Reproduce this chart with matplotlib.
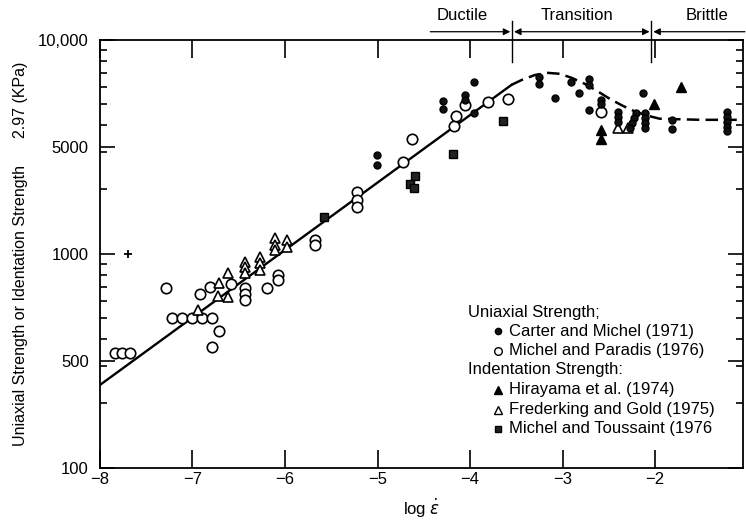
import numpy as np
import matplotlib
matplotlib.use("Agg")
import matplotlib.pyplot as plt
from matplotlib.ticker import LogLocator, NullFormatter
import matplotlib.transforms as mtrans

plt.rcParams["font.family"] = ["Liberation Sans", "DejaVu Sans"]

# Michel and Paradis (1976) - open circles
mp_x = [-7.84, -7.76, -7.68, -7.29, -7.22, -7.11, -7.01, -6.90, -6.79, -6.79, -6.71, -6.92, -6.81,
        -6.58, -6.43, -6.43, -6.43, -6.19, -6.08, -6.08, -5.68, -5.68, -5.22, -5.22, -5.22, -4.72,
        -4.63, -4.17, -4.15, -4.05, -3.81, -3.59, -2.59]
mp_y = [345, 345, 345, 693, 502, 502, 502, 502, 502, 367, 437, 650, 701, 725, 692, 650, 610, 693,
        795, 755, 1160, 1100, 1950, 1780, 1660, 2690, 3440, 3960, 4410, 4970, 5130, 5300, 4610]
# Frederking and Gold (1975) - open triangles
fg_x = [-6.94, -6.71, -6.72, -6.62, -6.62, -6.43, -6.43, -6.43, -6.27, -6.27, -6.27, -6.11, -6.11,
        -6.11, -5.98, -5.98, -2.40, -2.29]
fg_y = [547, 731, 636, 630, 815, 918, 869, 815, 968, 908, 841, 1190, 1100, 1045, 1160, 1080, 3880, 3880]
# Hirayama et al. (1974) - filled triangles
hi_x = [-2.59, -2.59, -2.01, -1.72]
hi_y = [3800, 3440, 5000, 6030]
# Michel and Toussaint (1976) - squares
mt_x = [-5.58, -4.59, -4.65, -4.61, -4.18, -3.64]
mt_y = [1490, 2310, 2120, 2030, 2930, 4170]
# Carter and Michel (1971) - filled circles
cm_x = [-5.01, -5.01, -4.29, -4.29, -4.05, -4.05, -3.96, -3.96, -3.25, -3.25, -3.08, -2.91, -2.82,
        -2.71, -2.71, -2.71, -2.59, -2.59, -2.40, -2.40, -2.40, -2.21, -2.23, -2.25, -2.27, -2.11,
        -2.11, -2.11, -2.11, -2.13, -1.82, -1.82, -1.22, -1.22, -1.22, -1.22, -1.22]
cm_y = [2900, 2610, 5190, 4760, 5530, 5250, 6360, 4560, 6710, 6220, 5360, 6360, 5650, 6570, 6170,
        4710, 5250, 5020, 4610, 4370, 4140, 4560, 4320, 4100, 3880, 4560, 4320, 4100, 3880, 5650,
        4230, 3840, 4610, 4370, 4140, 3920, 3760]
plus_x = [-7.70]
plus_y = [1000]

# fitted line (ductile) and dashed trend
fit_x = [-8.0, -3.55]
fit_y = [244, 6170]
trend_x = [-3.55, -3.44, -3.30, -3.16, -3.03, -2.90, -2.76, -2.63, -2.49, -2.35, -2.21, -2.08,
           -1.95, -1.51, -1.03]
trend_y = [6170, 6500, 6850, 7010, 6940, 6640, 6230, 5780, 5300, 4920, 4610, 4420, 4280, 4230, 4230]

yticks = [100, 10 ** 2.5, 1000, 10 ** 3.5, 10000]
ytick_labels = ["100", "500", "1000", "5000", "10,000"]
xticks = [-8, -7, -6, -5, -4, -3, -2]
regimes = ["Ductile", "Transition", "Brittle"]
regime_x = [-4.09, -2.84, -1.44]
bounds = [-3.545, -2.04]

fig = plt.figure(figsize=(7.46, 5.21), dpi=100)
ax = fig.add_axes([0.134, 0.102, 0.862, 0.8215])

ax.plot(fit_x, fit_y, color="k", lw=1.7, zorder=2)
ax.plot(trend_x, trend_y, color="k", lw=1.8, dashes=(5, 2.5), zorder=2)

ax.plot(mp_x, mp_y, "o", ms=7.5, mfc="white", mec="k", mew=1.2, ls="none", zorder=3)
ax.plot(fg_x, fg_y, "^", ms=7.5, mfc="white", mec="k", mew=1.2, ls="none", zorder=3)
ax.plot(hi_x, hi_y, "^", ms=7, mfc="k", mec="k", ls="none", zorder=4)
ax.plot(mt_x, mt_y, "s", ms=5.5, mfc="#222222", mec="k", ls="none", zorder=4)
ax.plot(cm_x, cm_y, "o", ms=5, mfc="#111111", mec="k", ls="none", zorder=4)
ax.plot(plus_x, plus_y, "+", ms=6, color="k", mew=1.3, ls="none", zorder=4)

ax.set_yscale("log")
ax.set_ylim(100, 10000)
ax.set_xlim(-8, -1.05)
ax.set_yticks(yticks)
ax.set_yticklabels(ytick_labels)
ax.yaxis.set_minor_locator(LogLocator(base=10, subs=np.arange(2, 10)))
ax.yaxis.set_minor_formatter(NullFormatter())
ax.set_xticks(xticks)
ax.set_xticklabels([f"\u2212{abs(v)}" for v in xticks])
ax.tick_params(which="both", direction="in", top=True, right=True, labelsize=12, width=1.2)
ax.tick_params(axis="x", which="major", length=13, pad=3)
ax.tick_params(axis="y", which="major", length=11, pad=8)
ax.tick_params(axis="y", which="minor", length=5)
for sp in ax.spines.values():
    sp.set_linewidth(1.3)

ax.set_ylabel("Uniaxial Strength or Identation Strength      2.97 (KPa)", fontsize=11.5, labelpad=7)
ax.set_xlabel("log $\\dot{\\varepsilon}$", fontsize=12, labelpad=7)

# regime annotation above the axes
tr = mtrans.blended_transform_factory(ax.transData, ax.transAxes)
for lab, xc in zip(regimes, regime_x):
    ax.text(xc, 1.058, lab, transform=tr, ha="center", va="center", fontsize=12)
for b in bounds:
    ax.plot([b, b], [0.949, 1.045], transform=tr, color="k", lw=1.0, clip_on=False)
head = dict(color="k", lw=0.9, mutation_scale=10, shrinkA=0, shrinkB=0)
ax.annotate("", xy=(bounds[0] - 0.02, 1.019), xytext=(-4.43, 1.019), xycoords=tr, textcoords=tr,
            arrowprops=dict(arrowstyle="-|>", **head))
ax.annotate("", xy=(bounds[1] - 0.02, 1.019), xytext=(bounds[0] + 0.02, 1.019), xycoords=tr, textcoords=tr,
            arrowprops=dict(arrowstyle="<|-|>", **head))
ax.annotate("", xy=(bounds[1] + 0.02, 1.019), xytext=(-1.03, 1.019), xycoords=tr, textcoords=tr,
            arrowprops=dict(arrowstyle="-|>", **head))

# legend drawn as text block inside the axes
fs = 12
ax.text(0.573, 0.364, "Uniaxial Strength;", transform=ax.transAxes, fontsize=fs, va="center")
ax.text(0.573, 0.229, "Indentation Strength:", transform=ax.transAxes, fontsize=fs, va="center")
entries = [
    (0.319, "o", 4.5, "#111111", "Carter and Michel (1971)"),
    (0.274, "o", 5.5, "white", "Michel and Paradis (1976)"),
    (0.182, "^", 5.5, "k", "Hirayama et al. (1974)"),
    (0.136, "^", 5.5, "white", "Frederking and Gold (1975)"),
    (0.091, "s", 4.5, "#222222", "Michel and Toussaint (1976"),
]
for yy, mk, ms, fc, lab in entries:
    ax.plot([0.619], [yy], mk, ms=ms, mfc=fc, mec="k", mew=1.0, transform=ax.transAxes, clip_on=False)
    ax.text(0.636, yy, lab, transform=ax.transAxes, fontsize=fs, va="center")

fig.savefig("out.png", dpi=100)
